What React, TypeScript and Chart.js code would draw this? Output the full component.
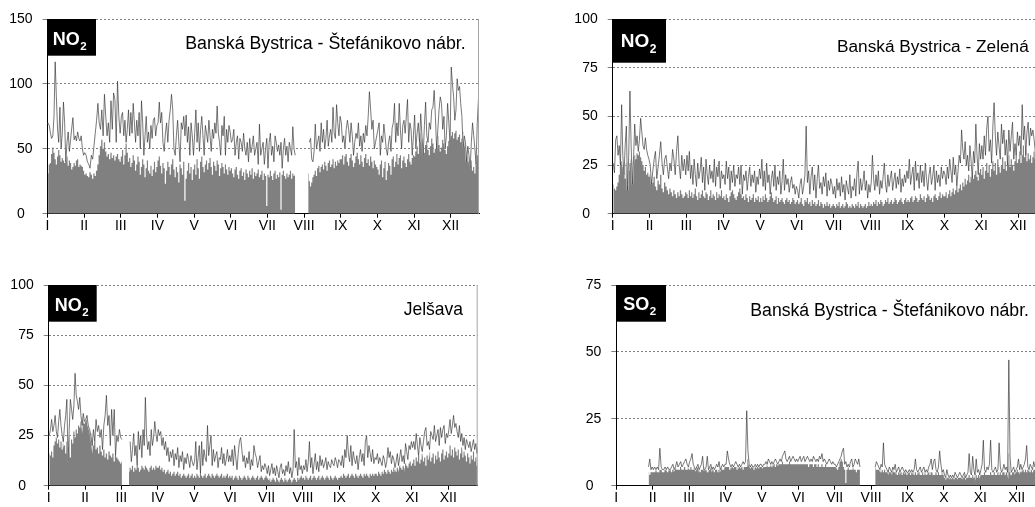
import React, { useEffect, useRef } from "react";
import { Chart, registerables } from "chart.js";

Chart.register(...registerables);

const YEAR_DAYS = 365;
const monthLabels = ["I", "II", "III", "IV", "V", "VI", "VII", "VIII", "IX", "X", "XI", "XII"];

// Daily values, one row per month (I..XII); null = no measurement.

// NO2, Banská Bystrica - Štefánikovo nábr. : daily mean
const stefNo2Mean: (number | null)[][] = [
  [31, 38, 39, 46, 51, 47, 42, 38, 44, 49, 45, 40, 43, 41, 39, 42, 44, 37, 41, 39, 34, 36, 39, 37, 41, 42, 36, 38, 37, 36, 33],
  [30, 31, 29, 28, 32, 30, 27, 31, 29, 33, 38, 45, 52, 57, 50, 55, 48, 44, 46, 42, 47, 43, 45, 41, 44, 46, 42, 40],
  [44, 49, 38, 45, 54, 47, 40, 43, 36, 39, 45, 41, 33, 38, 44, 40, 30, 36, 42, 38, 28, 35, 41, 33, 31, 37, 29, 34, 40, 32, 36],
  [41, 44, 37, 31, 39, 35, 23, 33, 40, 36, 30, 38, 42, 34, 28, 36, 32, 24, 38, 35, 30, 40, 10, 27, 33, 39, 31, 36, 26, 34],
  [38, 30, 42, 35, 27, 40, 44, 36, 32, 38, 41, 34, 39, 43, 36, 30, 40, 37, 33, 41, 38, 29, 35, 39, 36, 31, 38, 34, 30, 36, 33],
  [35, 31, 28, 34, 36, 30, 27, 33, 35, 29, 32, 26, 34, 31, 28, 33, 30, 35, 27, 32, 29, 31, 34, 28, 30, 33, 26, 31, 29, 6],
  [30, 28, 33, 29, 26, 31, 33, 27, 30, 28, 32, 3, 30, 33, 29, 27, 31, 28, 30, 33, 27, 31, 29, 30, null, null, null, null, null, null, null],
  [null, null, null, 31, 25, 21, 24, 28, 30, 33, 29, 35, 37, 32, 36, 38, 34, 40, 37, 33, 39, 41, 36, 38, 42, 35, 40, 37, 41, 39, 42],
  [42, 45, 38, 44, 46, 40, 37, 43, 46, 41, 36, 39, 44, 47, 42, 38, 45, 40, 36, 43, 46, 39, 42, 37, 44, 40, 35, 41, 38, 36],
  [34, 30, 38, 41, 28, 35, 40, 26, 33, 39, 37, 30, 42, 44, 36, 40, 46, 38, 43, 45, 35, 41, 44, 39, 36, 42, 46, 40, 38, 43, 45],
  [44, 48, 52, 46, 55, 62, 58, 50, 47, 53, 56, 49, 45, 52, 58, 54, 47, 50, 55, 60, 53, 48, 51, 57, 54, 49, 46, 52, 56, 58],
  [60, 63, 58, 62, 64, 57, 59, 61, 55, 58, 63, 56, 52, 48, 44, 40, 37, 41, 33, 36, 31, 39, 45, 49, 47, 45, 48, 44, 46, 50, 48],
];

// NO2, Banská Bystrica - Štefánikovo nábr. : daily maximum
const stefNo2Max: (number | null)[][] = [
  [70, 68, 62, 58, 60, 75, 117, 90, 65, 55, 82, 50, 62, 86, 70, 40, 55, 63, 48, 57, 66, 74, 57, 60, 56, 63, 58, 56, 60, 50, 45],
  [47, 45, 40, 38, 35, 45, 42, 52, 62, 72, 85, 70, 65, 80, 60, 92, 75, 60, 70, 55, 87, 65, 93, 88, 55, 102, 75, 62],
  [75, 78, 60, 72, 55, 65, 80, 60, 78, 62, 85, 70, 55, 72, 60, 78, 50, 87, 70, 45, 60, 75, 55, 63, 50, 68, 58, 72, 74, 60, 68],
  [70, 86, 70, 78, 55, 48, 62, 70, 55, 72, 80, 92, 80, 50, 45, 60, 72, 55, 40, 70, 65, 75, 60, 76, 55, 67, 45, 70, 60, 45],
  [62, 80, 55, 70, 48, 65, 75, 60, 45, 68, 62, 55, 72, 60, 48, 65, 58, 70, 62, 83, 62, 55, 45, 68, 60, 75, 45, 65, 55, 68, 63],
  [55, 57, 65, 45, 55, 60, 42, 58, 55, 48, 62, 50, 45, 55, 40, 58, 47, 52, 60, 45, 50, 55, 38, 69, 45, 50, 55, 38, 50, 58],
  [35, 55, 62, 45, 52, 40, 60, 55, 48, 53, 45, 55, 35, 50, 58, 45, 52, 40, 55, 50, 45, 67, 50, 45, null, null, null, null, null, null, null],
  [null, null, null, null, 55, 58, 42, 40, 48, 69, 50, 55, 60, 48, 70, 55, 65, 50, 58, 72, 52, 60, 65, 55, 82, 62, 58, 84, 70, 60, 75],
  [70, 55, 60, 50, 65, 72, 65, 55, 70, 60, 45, 55, 62, 58, 70, 52, 60, 48, 62, 55, 68, 60, 75, 94, 80, 65, 72, 50, 55, 60],
  [65, 70, 45, 60, 55, 69, 60, 50, 45, 55, 60, 48, 66, 70, 85, 55, 70, 60, 85, 65, 50, 68, 72, 62, 75, 88, 55, 70, 65, 45, 60],
  [76, 50, 62, 70, 55, 77, 60, 45, 68, 86, 60, 55, 70, 65, 80, 82, 95, 75, 50, 65, 80, 90, 85, 65, 75, 50, 60, 85, 70, 55],
  [113, 100, 90, 72, 80, 104, 95, 98, 85, 75, 50, 60, 55, 40, 52, 45, 35, 55, 70, 60, 50, 38, 70, 88, 80, 72, 65, 70, 75, 68, 70],
];

// NO2, Banská Bystrica - Zelená : daily mean
const zelenaNo2Mean: (number | null)[][] = [
  [15, 13, 12, 14, 16, 20, 25, 27, 24, 22, 18, 26, 14, 22, 26, 28, 27, 29, 30, 28, 31, 30, 32, 29, 27, 25, 22, 24, 20, 21, 19],
  [20, 18, 16, 19, 14, 12, 17, 15, 20, 13, 11, 16, 14, 12, 10, 13, 11, 9, 12, 10, 8, 11, 9, 12, 10, 8, 9, 11],
  [10, 8, 12, 9, 11, 8, 10, 13, 9, 7, 11, 8, 10, 12, 9, 8, 11, 10, 7, 9, 12, 8, 10, 9, 7, 11, 8, 10, 9, 12, 8],
  [9, 7, 10, 8, 6, 9, 11, 12, 10, 8, 7, 9, 11, 13, 10, 8, 9, 7, 10, 8, 6, 9, 7, 8, 10, 6, 8, 7, 9, 6],
  [8, 6, 9, 7, 10, 8, 6, 7, 9, 11, 8, 6, 7, 9, 5, 8, 6, 7, 8, 6, 5, 7, 8, 6, 7, 5, 6, 8, 7, 5, 6],
  [7, 5, 6, 8, 5, 4, 7, 6, 8, 5, 6, 4, 7, 5, 6, 4, 5, 7, 4, 6, 5, 3, 5, 4, 6, 4, 5, 3, 4, 5],
  [4, 3, 5, 4, 6, 3, 4, 5, 3, 4, 6, 5, 3, 4, 3, 5, 4, 3, 5, 4, 6, 3, 5, 4, 3, 4, 5, 3, 4, 6, 4],
  [5, 4, 6, 5, 7, 4, 6, 5, 7, 6, 4, 5, 7, 6, 8, 5, 6, 7, 5, 6, 8, 7, 5, 6, 7, 8, 6, 5, 7, 8, 6],
  [7, 6, 8, 9, 6, 7, 9, 8, 6, 7, 10, 8, 7, 9, 6, 8, 10, 9, 7, 8, 6, 9, 10, 8, 7, 9, 11, 8, 10, 9],
  [9, 11, 8, 10, 12, 9, 11, 13, 10, 12, 14, 11, 13, 15, 12, 16, 14, 18, 15, 17, 20, 16, 19, 21, 18, 20, 22, 19, 17, 21, 23],
  [20, 24, 18, 22, 26, 21, 25, 19, 23, 27, 22, 26, 20, 28, 24, 21, 25, 29, 23, 27, 22, 26, 30, 24, 28, 25, 22, 27, 31, 26],
  [28, 32, 26, 30, 35, 29, 33, 27, 31, 28, 30, 26, 29, 32, 28, 30, 27, 31, 29, 26, 30, 28, 32, 27, 29, 31, 28, 30, 26, 29, 27],
];

// NO2, Banská Bystrica - Zelená : daily maximum
const zelenaNo2Max: (number | null)[][] = [
  [26, 21, 38, 40, 30, 35, 25, 56, 30, 20, 35, 45, 12, 30, 63, 35, 15, 28, 46, 35, 40, 32, 38, 49, 42, 35, 33, 39, 33, 30, 28],
  [25, 15, 22, 28, 32, 18, 24, 30, 37, 26, 20, 28, 30, 24, 18, 26, 22, 33, 28, 20, 32, 40, 25, 18, 30, 22, 28, 20],
  [30, 22, 32, 18, 25, 15, 28, 20, 14, 26, 18, 22, 29, 16, 24, 12, 28, 20, 15, 25, 18, 22, 16, 28, 14, 24, 19, 27, 13, 22, 18],
  [20, 15, 27, 18, 24, 12, 22, 16, 25, 14, 20, 18, 24, 15, 25, 10, 20, 17, 22, 12, 19, 24, 14, 20, 16, 22, 11, 19, 15, 23],
  [18, 28, 14, 22, 12, 26, 16, 20, 10, 18, 22, 14, 25, 12, 19, 15, 22, 10, 17, 28, 12, 20, 15, 18, 11, 16, 19, 13, 15, 10, 14],
  [12, 8, 15, 18, 10, 14, 20, 45, 16, 22, 10, 19, 24, 12, 20, 8, 18, 25, 13, 16, 10, 19, 14, 21, 9, 17, 12, 18, 15, 10],
  [14, 8, 18, 12, 16, 9, 19, 11, 15, 7, 17, 13, 10, 20, 8, 14, 12, 18, 9, 21, 27, 10, 18, 12, 16, 22, 12, 17, 8, 15, 11],
  [16, 30, 18, 12, 20, 14, 22, 10, 17, 13, 19, 26, 15, 11, 20, 14, 18, 22, 12, 17, 21, 13, 19, 15, 23, 11, 18, 14, 20, 16, 22],
  [18, 28, 15, 20, 24, 12, 27, 17, 21, 13, 25, 16, 22, 14, 26, 18, 12, 20, 24, 15, 19, 25, 12, 22, 16, 20, 14, 24, 18, 22],
  [20, 15, 24, 18, 28, 22, 16, 29, 20, 25, 14, 22, 30, 26, 43, 33, 28, 37, 25, 30, 22, 35, 27, 18, 32, 26, 46, 30, 20, 36, 28],
  [35, 28, 40, 30, 44, 50, 32, 38, 26, 45, 57, 40, 30, 42, 35, 28, 46, 36, 43, 30, 38, 25, 43, 32, 40, 47, 28, 36, 30, 42],
  [35, 40, 30, 56, 38, 45, 30, 42, 47, 35, 44, 40, 43, 38, 32, 40, 35, 38, 42, 30, 36, 40, 34, 38, 32, 36, 40, 35, 30, 38, 34],
];

// NO2, Jelšava : daily mean
const jelsavaNo2Mean: (number | null)[][] = [
  [16, 15, 17, 14, 20, 22, 24, 21, 23, 19, 22, 18, 24, 20, 16, 22, 19, 25, 14, 23, 21, 27, 24, 28, 26, 30, 29, 32, 34, 33, 31],
  [33, 35, 30, 28, 26, 24, 20, 22, 18, 19, 16, 20, 17, 15, 18, 14, 16, 13, 17, 15, 14, 16, 12, 15, 14, 13, 12, 11],
  [12, null, null, null, null, null, 7, 9, 8, 10, 7, 9, 8, 10, 9, 7, 8, 10, 9, 8, 10, 9, 8, 7, 9, 10, 8, 9, 8, 10, 9],
  [9, 10, 8, 9, 7, 8, 6, 7, 8, 6, 7, 5, 6, 7, 5, 6, 7, 5, 6, 4, 5, 6, 5, 4, 5, 6, 4, 5, 6, 4],
  [5, 4, 6, 5, 4, 6, 5, 4, 5, 6, 4, 5, 6, 5, 4, 6, 5, 4, 5, 6, 5, 4, 5, 6, 4, 5, 4, 5, 6, 4, 5],
  [4, 5, 3, 4, 5, 4, 3, 5, 4, 3, 4, 5, 4, 3, 5, 4, 3, 4, 5, 4, 3, 4, 5, 3, 4, 5, 4, 3, 4, 5],
  [4, 3, 4, 2, 3, 4, 3, 2, 4, 3, 2, 3, 4, 3, 2, 4, 3, 2, 3, 4, 3, 2, 3, 4, 3, 2, 4, 3, 4, 5, 4],
  [4, 3, 5, 4, 3, 4, 5, 3, 4, 5, 4, 3, 4, 5, 3, 4, 5, 4, 3, 4, 5, 4, 3, 5, 4, 3, 4, 5, 4, 3, 4],
  [4, 5, 4, 6, 5, 4, 5, 6, 4, 5, 6, 5, 4, 6, 5, 4, 5, 6, 5, 4, 6, 5, 6, 5, 4, 6, 5, 6, 5, 6],
  [6, 5, 7, 6, 5, 7, 6, 8, 7, 6, 8, 7, 6, 8, 7, 9, 8, 7, 9, 8, 10, 9, 8, 10, 9, 11, 10, 9, 11, 12, 10],
  [11, 13, 10, 14, 12, 15, 11, 13, 16, 12, 14, 10, 15, 13, 17, 12, 14, 16, 11, 15, 13, 17, 14, 12, 16, 18, 13, 15, 17, 14],
  [16, 20, 15, 18, 14, 19, 17, 15, 18, 13, 16, 19, 14, 17, 15, 12, 16, 14, 11, 15, 13, 17, 12, 14, 10, 15, 13, 11, 14, 12, 13],
];

// NO2, Jelšava : daily maximum
const jelsavaNo2Max: (number | null)[][] = [
  [25, 28, 33, 27, 30, 35, 27, 24, 32, 38, 30, 25, 22, 30, 35, 43, 12, 28, 43, 38, 33, 40, 56, 45, 42, 38, 44, 35, 30, 36, 32],
  [33, 35, 30, 28, 25, 20, 28, 22, 33, 27, 30, 24, 28, 18, 30, 35, 45, 30, 35, 20, 38, 25, 38, 15, 25, 22, 28, 24],
  [23, null, null, null, null, null, null, 22, 12, 18, 26, 15, 20, 10, 27, 18, 25, 14, 28, 20, 44, 25, 18, 22, 15, 28, 20, 24, 32, 26, 22],
  [28, 25, 27, 20, 24, 18, 22, 15, 19, 12, 17, 14, 18, 10, 16, 13, 19, 9, 15, 12, 17, 8, 14, 11, 16, 13, 9, 15, 12, 10],
  [12, 22, 8, 14, 20, 6, 22, 10, 18, 14, 12, 30, 15, 20, 25, 10, 18, 12, 15, 17, 9, 14, 13, 19, 11, 16, 10, 13, 18, 12, 15],
  [12, 18, 10, 20, 14, 8, 16, 22, 24, 18, 12, 15, 9, 14, 11, 17, 8, 13, 10, 20, 16, 14, 9, 12, 15, 7, 10, 8, 11, 9],
  [6, 10, 5, 8, 11, 6, 9, 5, 10, 7, 4, 9, 11, 6, 8, 5, 10, 7, 12, 6, 9, 4, 8, 28, 9, 12, 5, 14, 8, 10, 6],
  [10, 8, 13, 7, 12, 22, 9, 14, 6, 11, 16, 8, 12, 7, 15, 10, 13, 9, 11, 14, 8, 12, 10, 9, 13, 11, 10, 14, 12, 9, 13],
  [12, 10, 15, 9, 18, 14, 25, 16, 12, 20, 10, 17, 13, 11, 15, 8, 14, 18, 12, 16, 10, 22, 25, 14, 20, 16, 12, 18, 11, 14],
  [13, 16, 11, 14, 12, 10, 15, 13, 9, 12, 19, 14, 17, 11, 15, 13, 9, 12, 16, 10, 14, 18, 12, 15, 11, 21, 17, 13, 20, 18, 22],
  [19, 22, 18, 26, 20, 15, 24, 20, 17, 22, 27, 29, 20, 22, 18, 27, 25, 23, 30, 22, 25, 28, 20, 29, 24, 28, 30, 21, 26, 24],
  [28, 33, 26, 30, 35, 29, 31, 27, 24, 30, 22, 26, 20, 24, 18, 23, 21, 19, 22, 17, 20, 23, 18, 21, 16, 19, 22, 17, 20, 18, 21],
];

// SO2, Banská Bystrica - Štefánikovo nábr. : daily mean
const stefSo2Mean: (number | null)[][] = [
  [null, null, null, null, null, null, null, null, null, null, null, null, null, null, null, null, null, null, null, null, null, null, null, null, null, null, null, 5, 4, 5, 5],
  [5, 5, 6, 5, 5, 6, 6, 5, 5, 6, 6, 5, 6, 6, 5, 6, 6, 7, 6, 6, 6, 7, 6, 6, 7, 6, 6, 7],
  [6, 7, 6, 6, 7, 6, 7, 7, 6, 5, 6, 6, 7, 6, 6, 5, 6, 6, 7, 6, 6, 5, 6, 6, 5, 6, 6, 7, 6, 6, 7],
  [7, 7, 7, 6, 7, 7, 7, 7, 7, 6, 7, 7, 7, 7, 6, 7, 7, 7, 10, 8, 7, 7, 7, 6, 7, 7, 7, 7, 7, 7],
  [7, 7, 7, 7, 8, 7, 7, 8, 7, 8, 8, 7, 8, 8, 8, 8, 8, 9, 8, 8, 8, 8, 8, 9, 8, 8, 8, 8, 8, 8, 8],
  [8, 8, 8, 8, 8, 8, 8, 8, 7, 8, 8, 8, 7, 8, 8, 7, 8, 7, 7, 8, 7, 7, 8, 7, 7, 7, 7, 7, 7, 7],
  [7, 7, 6, 7, 9, 10, 9, 7, 6, 1, 6, 7, 6, 6, 6, 7, 6, 6, 5, 6, 6, 6, null, null, null, null, null, null, null, null, null],
  [null, null, null, 7, 6, 6, 6, 6, 5, 6, 5, 6, 5, 5, 6, 5, 5, 5, 6, 5, 5, 5, 4, 5, 5, 5, 4, 5, 5, 5, 4],
  [5, 5, 4, 5, 5, 4, 5, 4, 5, 5, 4, 4, 5, 4, 5, 4, 5, 5, 4, 5, 5, 4, 4, 5, 4, 5, 4, 4, 5, 4],
  [3, 3, 3, 3, 3, 3, 3, 3, 3, 3, 3, 3, 3, 3, 3, 3, 3, 4, 3, 3, 3, 4, 3, 3, 4, 3, 4, 4, 3, 4, 4],
  [4, 4, 4, 5, 4, 4, 4, 4, 5, 4, 4, 5, 4, 4, 5, 4, 5, 4, 5, 5, 4, 5, 5, 12, 5, 4, 5, 5, 5, 5],
  [6, 5, 6, 5, 6, 6, 5, 6, 5, 6, 6, 5, 6, 5, 6, 6, 5, 6, 5, 6, 5, 6, 6, 5, 6, 5, 6, 5, 6, 5, 6],
];

// SO2, Banská Bystrica - Štefánikovo nábr. : daily maximum
const stefSo2Max: (number | null)[][] = [
  [null, null, null, null, null, null, null, null, null, null, null, null, null, null, null, null, null, null, null, null, null, null, null, null, null, null, null, 7, 10, 6, 7],
  [6, 7, 6, 7, 6, 14, 7, 6, 6, 7, 6, 7, 6, 6, 7, 8, 6, 7, 9, 7, 8, 9, 7, 8, 9, 10, 8, 7],
  [9, 10, 12, 8, 7, 6, 7, 8, 6, 7, 8, 11, 6, 6, 7, 11, 6, 7, 8, 6, 7, 6, 7, 8, 7, 9, 6, 7, 8, 7, 8],
  [8, 13, 10, 8, 7, 8, 7, 8, 9, 8, 7, 8, 7, 8, 9, 8, 9, 28, 13, 8, 7, 8, 7, 7, 8, 7, 8, 7, 8, 8],
  [7, 8, 8, 9, 8, 10, 9, 8, 9, 8, 9, 10, 9, 8, 9, 10, 9, 11, 12, 13, 10, 9, 10, 11, 9, 10, 11, 10, 9, 10, 9],
  [10, 11, 9, 10, 11, 9, 10, 11, 10, 9, 10, 9, 11, 10, 9, 10, 9, 11, 10, 12, 9, 10, 9, 8, 9, 10, 9, 8, 9, 8],
  [8, 7, 8, 9, 10, 11, 13, 14, 8, 9, 7, 8, 7, 9, 10, 7, 8, 10, 9, 8, 10, 7, null, null, null, null, null, null, null, null, null],
  [null, null, null, 7, 9, 8, 7, 6, 8, 7, 16, 8, 7, 6, 5, 7, 6, 5, 7, 6, 8, 5, 6, 7, 5, 6, 7, 6, 5, 6, 5],
  [5, 6, 5, 6, 5, 6, 10, 6, 5, 6, 7, 5, 6, 7, 5, 6, 5, 7, 8, 10, 6, 9, 10, 6, 5, 7, 13, 8, 5, 6],
  [4, 3, 6, 4, 3, 4, 3, 4, 3, 5, 4, 3, 4, 5, 4, 3, 4, 5, 3, 4, 5, 12, 5, 4, 11, 6, 4, 10, 5, 6, 4],
  [6, 8, 17, 6, 5, 7, 6, 8, 17, 6, 5, 6, 7, 5, 6, 16, 7, 5, 6, 8, 6, 7, 5, 47, 11, 5, 6, 7, 5, 6],
  [7, 10, 6, 8, 6, 7, 8, 10, 15, 7, 6, 8, 7, 6, 9, 7, 8, 6, 7, 8, 6, 7, 8, 6, 7, 6, 8, 7, 6, 7, 6],
];

type Row = (number | null)[];

interface PanelSpec {
  canvas: { x: number; y: number; w: number; h: number };
  plot: { left: number; top: number; right: number; bottom: number };
  xMax: number;
  yMax: number;
  yStep: number;
  mean: Row[];
  max: Row[];
  species: string;
  sub: string;
  box: { w: number; h: number; tx: number; ty: number; size: number; subSize: number; subDy: number };
  station: { text: string; x: number; y: number; width: number; align: "left" | "right" };
  rightBorder: boolean;
}

const FONT = '"Liberation Sans", Arial, Helvetica, sans-serif';
const TICK_FONT_SIZE = 14;

// Spread each month's days evenly over its twelfth of the year.
function toPoints(rows: Row[]) {
  const monthSpan = YEAR_DAYS / 12;
  const pts: { x: number; y: number | null }[] = [];
  rows.forEach((row, m) => {
    row.forEach((v, d) => {
      pts.push({ x: m * monthSpan + ((d + 0.5) * monthSpan) / row.length, y: v });
    });
  });
  return pts;
}

const panels: PanelSpec[] = [
  {
    canvas: { x: 0, y: 0, w: 484, h: 245 },
    plot: { left: 47.5, top: 19, right: 479, bottom: 213.7 },
    xMax: 358.1,
    yMax: 150,
    yStep: 50,
    mean: stefNo2Mean,
    max: stefNo2Max,
    species: "NO",
    sub: "2",
    box: { w: 48.5, h: 36.7, tx: 5.2, ty: 26, size: 18, subSize: 11.5, subDy: 5 },
    station: { text: "Banská Bystrica - Štefánikovo nábr.", x: 465.7, y: 48.5, width: 280.5, align: "right" },
    rightBorder: true,
  },
  {
    canvas: { x: 530, y: 0, w: 540, h: 245 },
    plot: { left: 612.7, top: 19, right: 1054.9, bottom: 213.7 },
    xMax: 365,
    yMax: 100,
    yStep: 25,
    mean: zelenaNo2Mean,
    max: zelenaNo2Max,
    species: "NO",
    sub: "2",
    box: { w: 53.3, h: 43.7, tx: 8, ty: 27.7, size: 19, subSize: 12, subDy: 6 },
    station: { text: "Banská Bystrica - Zelená", x: 837, y: 51.5, width: 191.7, align: "left" },
    rightBorder: false,
  },
  {
    canvas: { x: 0, y: 265, w: 484, h: 242 },
    plot: { left: 48.7, top: 285, right: 477.7, bottom: 485.7 },
    xMax: 359.2,
    yMax: 100,
    yStep: 25,
    mean: jelsavaNo2Mean,
    max: jelsavaNo2Max,
    species: "NO",
    sub: "2",
    box: { w: 48, h: 36.7, tx: 6, ty: 25.7, size: 18, subSize: 11.5, subDy: 5 },
    station: { text: "Jelšava", x: 463, y: 315, width: 59.3, align: "right" },
    rightBorder: true,
  },
  {
    canvas: { x: 530, y: 265, w: 540, h: 242 },
    plot: { left: 616.3, top: 285, right: 1053.1, bottom: 485.7 },
    xMax: 365,
    yMax: 75,
    yStep: 25,
    mean: stefSo2Mean,
    max: stefSo2Max,
    species: "SO",
    sub: "2",
    box: { w: 49.7, h: 36.7, tx: 7, ty: 25.3, size: 18, subSize: 11.5, subDy: 5 },
    station: { text: "Banská Bystrica - Štefánikovo nábr.", x: 1029, y: 316, width: 279, align: "right" },
    rightBorder: false,
  },
];

function decorPlugin(spec: PanelSpec) {
  return {
    id: "panelDecor",
    afterDraw(chart: Chart) {
      const { ctx, chartArea: a } = chart;
      ctx.save();
      if (spec.rightBorder) {
        ctx.strokeStyle = "#a6a6a6";
        ctx.lineWidth = 1;
        ctx.beginPath();
        ctx.moveTo(a.right - 0.5, a.top);
        ctx.lineTo(a.right - 0.5, a.bottom);
        ctx.stroke();
      }
      // pollutant label box
      ctx.fillStyle = "#000";
      ctx.fillRect(a.left, a.top, spec.box.w, spec.box.h);
      ctx.fillStyle = "#fff";
      ctx.textBaseline = "alphabetic";
      ctx.textAlign = "left";
      ctx.font = `bold ${spec.box.size}px ${FONT}`;
      const bx = a.left + spec.box.tx;
      const by = a.top + spec.box.ty;
      ctx.fillText(spec.species, bx, by);
      const sw = ctx.measureText(spec.species).width;
      ctx.font = `bold ${spec.box.subSize}px ${FONT}`;
      ctx.fillText(spec.sub, bx + sw + 0.5, by + spec.box.subDy);
      // station name, sized to its box width
      ctx.font = `100px ${FONT}`;
      const w100 = ctx.measureText(spec.station.text).width;
      const size = (100 * spec.station.width) / w100;
      ctx.font = `${size.toFixed(2)}px ${FONT}`;
      ctx.fillStyle = "#000";
      ctx.textAlign = spec.station.align;
      ctx.fillText(spec.station.text, spec.station.x - spec.canvas.x, spec.station.y - spec.canvas.y);
      ctx.restore();
    },
  };
}

function Panel({ spec }: { spec: PanelSpec }) {
  const ref = useRef<HTMLCanvasElement>(null);

  useEffect(() => {
    if (!ref.current) return;
    const c = spec.canvas;
    const p = spec.plot;
    const yAxisW = p.left - c.x;
    const xAxisH = c.y + c.h - p.bottom;
    const meanPts = toPoints(spec.mean);
    const maxPts = toPoints(spec.max);

    const chart = new Chart(ref.current, {
      type: "line",
      data: {
        datasets: [
          {
            data: meanPts,
            fill: "origin",
            backgroundColor: "#808080",
            borderColor: "rgba(0,0,0,0)",
            borderWidth: 0,
            pointRadius: 0,
            stepped: "middle",
            order: 3,
          },
          {
            data: maxPts,
            fill: false,
            borderColor: "rgba(255,255,255,0.8)",
            borderWidth: 1.7,
            pointRadius: 0,
            tension: 0,
            order: 2,
          },
          {
            data: maxPts,
            fill: false,
            borderColor: "#303030",
            borderWidth: 0.65,
            pointRadius: 0,
            tension: 0,
            order: 1,
          },
        ],
      },
      options: {
        responsive: false,
        animation: false,
        events: [],
        layout: { padding: { left: 0, top: p.top - c.y, right: c.x + c.w - p.right, bottom: 0 } },
        plugins: { legend: { display: false }, tooltip: { enabled: false } },
        scales: {
          x: {
            type: "linear",
            min: 0,
            max: spec.xMax,
            afterBuildTicks: (s: any) => {
              s.ticks = monthLabels.map((_, i) => ({ value: (i * YEAR_DAYS) / 12 }));
            },
            afterFit: (s: any) => {
              s.height = xAxisH;
            },
            ticks: {
              autoSkip: false,
              maxRotation: 0,
              minRotation: 0,
              padding: 0,
              color: "#000",
              font: { family: FONT, size: TICK_FONT_SIZE },
              callback: (_v: any, i: number) => monthLabels[i],
            },
            grid: { drawOnChartArea: false, drawTicks: true, tickLength: 4, tickColor: "#000", tickWidth: 1 },
            border: { display: true, color: "#000", width: 1 },
          },
          y: {
            type: "linear",
            min: 0,
            max: spec.yMax,
            afterFit: (s: any) => {
              s.width = yAxisW;
            },
            ticks: {
              stepSize: spec.yStep,
              padding: 10,
              color: "#000",
              font: { family: FONT, size: TICK_FONT_SIZE },
              callback: (v: any) => (Number(v) === 0 ? "0  " : String(v)),
            },
            grid: { color: "#808080", lineWidth: 1, tickLength: 5, tickColor: "#808080", tickBorderDash: [] },
            border: { display: true, color: "#000", width: 1, dash: [2, 2] },
          },
        },
      },
      plugins: [decorPlugin(spec)],
    } as any);

    return () => chart.destroy();
  }, [spec]);

  const c = spec.canvas;
  return (
    <canvas
      ref={ref}
      width={c.w}
      height={c.h}
      style={{ position: "absolute", left: c.x, top: c.y, width: c.w, height: c.h }}
    />
  );
}

export default function App() {
  return (
    <div
      style={{
        position: "fixed",
        left: 0,
        top: 0,
        width: 1035,
        height: 507,
        overflow: "hidden",
        background: "#fff",
      }}
    >
      {panels.map((spec, i) => (
        <Panel key={i} spec={spec} />
      ))}
    </div>
  );
}
